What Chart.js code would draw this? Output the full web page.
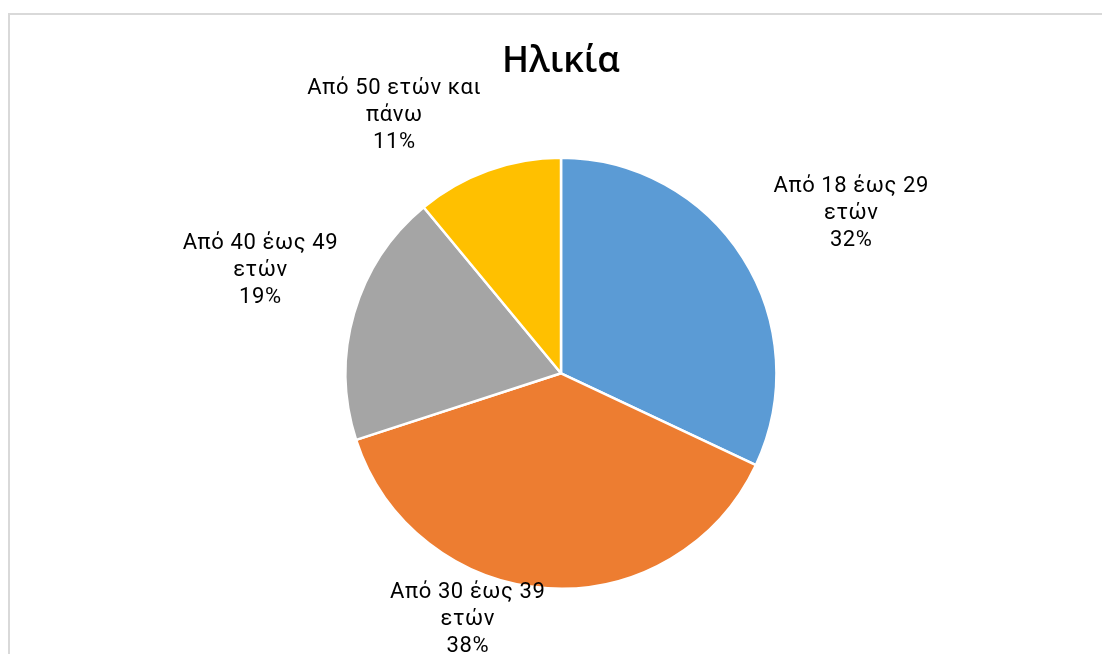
<!DOCTYPE html>
<html>
<head>
<meta charset="utf-8">
<script src="https://cdn.jsdelivr.net/npm/chart.js@4/dist/chart.umd.min.js"></script>
<style>
  html, body { margin: 0; padding: 0; background: #fff; overflow: hidden; }
  #wrap { position: absolute; left: 0; top: 0; width: 1102px; height: 654px; }
  #frame { position: absolute; left: 8px; top: 13px; width: 1200px; height: 700px;
           border-top: 2px solid #d9d9d9; border-left: 2px solid #d9d9d9; }
  canvas { position: absolute; left: 0; top: 0; }
</style>
</head>
<body>
<div id="wrap">
  <div id="frame"></div>
  <canvas id="ageChart" width="1102" height="654"></canvas>
</div>
<script>
// Age groups (Greek labels kept as in the original)
const categories = ['Από 18 έως 29 ετών', 'Από 30 έως 39 ετών', 'Από 40 έως 49 ετών', 'Από 50 ετών και πάνω'];
const labelLines = [
    ['Από 18 έως 29', 'ετών'],
    ['Από 30 έως 39', 'ετών'],
    ['Από 40 έως 49', 'ετών'],
    ['Από 50 ετών και', 'πάνω']
];
const percentages = [32, 38, 19, 11];
const sliceColors = ['#5B9BD5', '#ED7D31', '#A5A5A5', '#FFC000'];

// label nudges from the outer edge of each slice (best-fit placement)
const labelNudge = [[108, -44], [-80, 31], [-94, -43], [-94, -55]];

const outsideLabels = {
    id: 'outsideLabels',
    afterDatasetsDraw(chart) {
        const ctx = chart.ctx;
        const arcs = chart.getDatasetMeta(0).data;
        const spacing = 0.6;
        ctx.save();
        ctx.font = '22px Roboto';
        ctx.letterSpacing = spacing + 'px';
        ctx.fillStyle = '#000';
        ctx.textAlign = 'center';
        ctx.textBaseline = 'middle';
        arcs.forEach((arc, i) => {
            const mid = (arc.startAngle + arc.endAngle) / 2;
            const ex = arc.x + Math.cos(mid) * arc.outerRadius;
            const ey = arc.y + Math.sin(mid) * arc.outerRadius;
            const cx = ex + labelNudge[i][0] + spacing / 2;
            const cy = ey + labelNudge[i][1];
            const lines = labelLines[i].concat([percentages[i] + '%']);
            lines.forEach((t, k) => {
                ctx.fillText(t, cx, cy + (k - 1) * 27);
            });
        });
        ctx.restore();
    }
};

const ctx = document.getElementById('ageChart').getContext('2d');
new Chart(ctx, {
    type: 'pie',
    data: {
        labels: categories,
        datasets: [{
            data: percentages,
            backgroundColor: sliceColors,
            borderColor: '#ffffff',
            borderWidth: 2.5
        }]
    },
    options: {
        responsive: false,
        animation: false,
        layout: {
            padding: { left: 344, right: 324, top: 0, bottom: 64 }
        },
        plugins: {
            legend: { display: false },
            tooltip: { enabled: false },
            title: {
                display: true,
                text: 'Ηλικία',
                color: '#000',
                font: { family: 'Open Sans', size: 36, weight: 600 },
                padding: { top: 40, bottom: 73.4 }
            }
        }
    },
    plugins: [outsideLabels]
});
</script>
</body>
</html>
